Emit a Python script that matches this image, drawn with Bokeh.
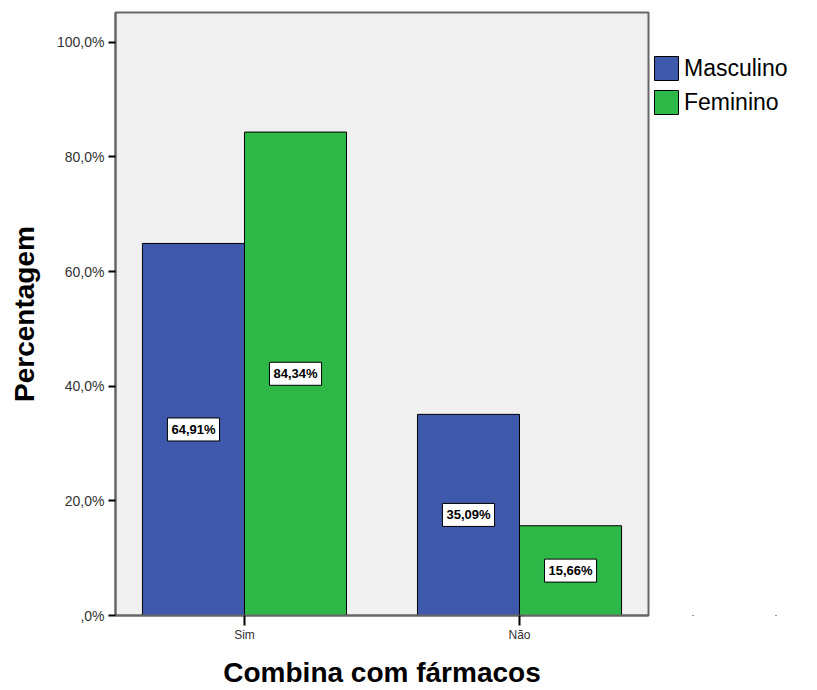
from bokeh.plotting import figure
from bokeh.layouts import row
from bokeh.models import (ColumnDataSource, FactorRange, FixedTicker, Range1d,
                          Legend, LegendItem)
from bokeh.core.properties import value
from bokeh.transform import dodge
from bokeh.embed import file_html
from bokeh.resources import INLINE

categories = ["Sim", "Não"]
masculino = [64.91, 35.09]
feminino = [84.34, 15.66]
series_names = ["Masculino", "Feminino"]
y_ticks = [0, 20, 40, 60, 80, 100]
y_tick_labels = [",0%", "20,0%", "40,0%", "60,0%", "80,0%", "100,0%"]

BLUE = "#3E58AC"
GREEN = "#2EB848"
FONT = "Liberation Sans"

def fmt(v):
    return ("%.2f%%" % v).replace(".", ",")

src = ColumnDataSource(dict(
    cat=categories,
    m=masculino,
    f=feminino,
    m_half=[v / 2 for v in masculino],
    f_half=[v / 2 for v in feminino],
    m_lab=[fmt(v) for v in masculino],
    f_lab=[fmt(v) for v in feminino],
))

p = figure(x_range=FactorRange(*categories, range_padding=-0.031),
           y_range=(0, 105.2),
           width=650, height=690,
           output_backend="svg", toolbar_location=None,
           min_border_left=115, min_border_right=2,
           min_border_top=12, min_border_bottom=72)

bw = 0.371
p.vbar(x=dodge("cat", -bw / 2, range=p.x_range), top="m", width=bw,
       source=src, fill_color=BLUE, line_color="black", line_width=1)
p.vbar(x=dodge("cat", bw / 2, range=p.x_range), top="f", width=bw,
       source=src, fill_color=GREEN, line_color="black", line_width=1)

for xo, ycol, tcol in [(-bw / 2, "m_half", "m_lab"), (bw / 2, "f_half", "f_lab")]:
    p.text(x=dodge("cat", xo, range=p.x_range), y=ycol, text=tcol,
           source=src, text_align="center", text_baseline="middle",
           text_font=value(FONT), text_font_style="bold", text_font_size="13px",
           text_color="black",
           background_fill_color="white", border_line_color="black",
           border_line_width=1, padding=4)

# frame
p.background_fill_color = "#F0F0F0"
p.border_fill_color = "white"
p.outline_line_color = "#666666"
p.outline_line_width = 2
p.xgrid.grid_line_color = None
p.ygrid.grid_line_color = None

# y axis
p.yaxis.ticker = FixedTicker(ticks=y_ticks)
p.yaxis.major_label_overrides = {t: l for t, l in zip(y_ticks, y_tick_labels)}
p.yaxis.minor_tick_line_color = None
p.yaxis.major_tick_in = 0
p.yaxis.major_tick_out = 7
p.yaxis.major_tick_line_width = 2
p.yaxis.major_tick_line_color = "black"
p.yaxis.axis_line_color = "#666666"
p.yaxis.axis_line_width = 2
p.yaxis.major_label_text_font = FONT
p.yaxis.major_label_text_font_size = "14px"
p.yaxis.major_label_text_color = "#333333"
p.yaxis.major_label_standoff = 4
p.yaxis.axis_label = "Percentagem"
p.yaxis.axis_label_text_font = FONT
p.yaxis.axis_label_text_font_style = "bold"
p.yaxis.axis_label_text_font_size = "28px"
p.yaxis.axis_label_text_color = "black"
p.yaxis.axis_label_standoff = 14

# x axis
p.xaxis.major_tick_in = 0
p.xaxis.major_tick_out = 10
p.xaxis.major_tick_line_width = 2
p.xaxis.major_tick_line_color = "black"
p.xaxis.axis_line_color = "#666666"
p.xaxis.axis_line_width = 2
p.xaxis.major_label_text_font = FONT
p.xaxis.major_label_text_font_size = "12px"
p.xaxis.major_label_text_color = "#333333"
p.xaxis.major_label_standoff = 2
p.xaxis.axis_label = "Combina com fármacos"
p.xaxis.axis_label_text_font = FONT
p.xaxis.axis_label_text_font_style = "bold"
p.xaxis.axis_label_text_font_size = "28px"
p.xaxis.axis_label_text_color = "black"
p.xaxis.axis_label_standoff = 12

# legend panel (separate figure to the right of the chart); its renderers are
# zero-size bars far outside its visible range, so only the legend is drawn
lg = figure(width=167, height=690, output_backend="svg", toolbar_location=None,
            x_range=FactorRange(*categories), y_range=Range1d(1000, 1100),
            x_axis_type=None, y_axis_type=None,
            min_border_left=1, min_border_right=0,
            min_border_top=12, min_border_bottom=72)
lg.outline_line_color = None
lg.background_fill_color = "white"
lg.xgrid.grid_line_color = None
lg.ygrid.grid_line_color = None
lr_m = lg.vbar(x="cat", top="m", bottom="m", width=0, source=src,
               fill_color=BLUE, line_color="black", line_width=1)
lr_f = lg.vbar(x="cat", top="f", bottom="f", width=0, source=src,
               fill_color=GREEN, line_color="black", line_width=1)
legend = Legend(items=[LegendItem(label=series_names[0], renderers=[lr_m]),
                       LegendItem(label=series_names[1], renderers=[lr_f])],
                location="top_left", title="\u00a0",
                title_text_font_size="30px", title_standoff=7,
                glyph_width=30, glyph_height=30, spacing=4, padding=0, margin=0,
                label_standoff=3, label_text_font=FONT, label_text_font_size="23px",
                label_text_color="black", background_fill_alpha=0,
                border_line_color=None)
lg.add_layout(legend)

layout = row(p, lg, spacing=0)
open("out.html", "w").write(file_html(layout, INLINE))
